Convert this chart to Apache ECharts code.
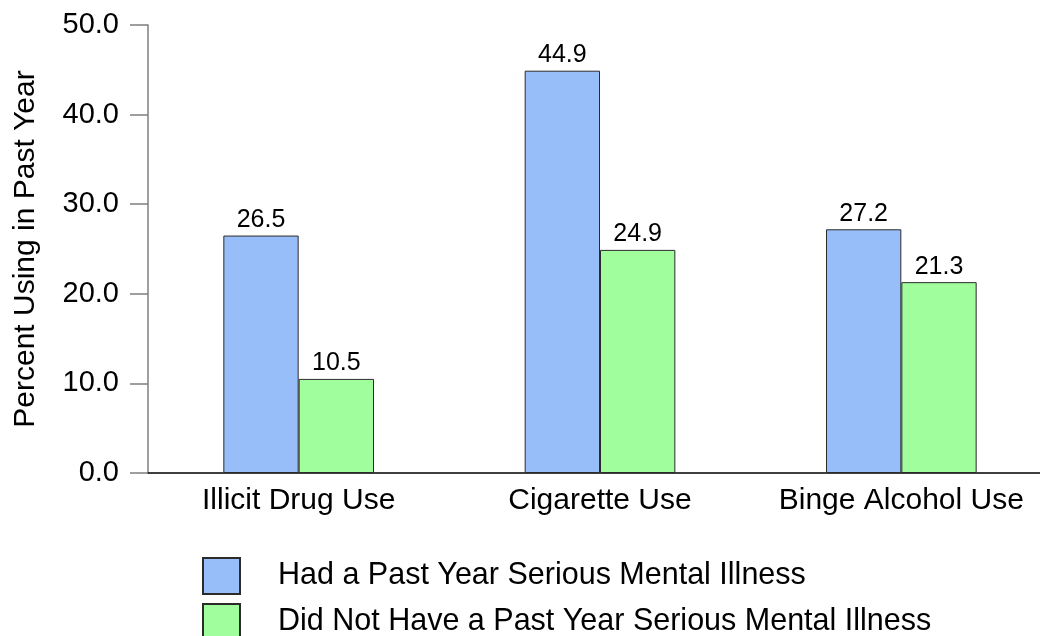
<!DOCTYPE html>
<html>
<head>
<meta charset="utf-8">
<script src="https://cdn.jsdelivr.net/npm/echarts@6/dist/echarts.min.js"></script>
<style>
  html, body { margin: 0; padding: 0; background: #ffffff; }
  #chart { width: 1040px; height: 636px; }
</style>
</head>
<body>
<div id="chart"></div>
<script>
// Past-year substance use by serious mental illness status
const categories = ['Illicit Drug Use', 'Cigarette Use', 'Binge Alcohol Use'];
const seriesNames = [
  'Had a Past Year Serious Mental Illness',
  'Did Not Have a Past Year Serious Mental Illness'
];
const hadSMI = [26.5, 44.9, 27.2];
const noSMI = [10.5, 24.9, 21.3];
const yTicks = [0, 10, 20, 30, 40, 50];

const FONT = '"Liberation Sans", Arial, Helvetica, sans-serif';

const chart = echarts.init(document.getElementById('chart'), null, { renderer: 'canvas' });

function barSeries(name, values, color) {
  return {
    name: name,
    type: 'bar',
    data: values,
    barWidth: '25%',
    barGap: '0%',
    itemStyle: { color: color, borderColor: '#2b2b2b', borderWidth: 1 },
    label: {
      show: true,
      position: 'top',
      distance: 3,
      color: '#000',
      fontFamily: FONT,
      fontSize: 25,
      formatter: p => p.value.toFixed(1)
    },
    emphasis: { disabled: true }
  };
}

// One legend row per series, stacked under the plot
function legendRow(name, top) {
  return {
    orient: 'horizontal',
    left: 202,
    top: top,
    padding: 0,
    itemWidth: 37,
    itemHeight: 36,
    icon: 'rect',
    selectedMode: false,
    textStyle: { color: '#000', fontFamily: FONT, fontSize: 30.5, padding: [0, 0, 0, 33] },
    data: [name]
  };
}

chart.setOption({
  animation: false,
  backgroundColor: '#ffffff',
  grid: {
    left: 148, right: -12, top: 25, bottom: 163,
    containLabel: false,
    outerBoundsMode: 'none'
  },
  xAxis: {
    type: 'category',
    data: categories,
    axisLine: { show: true, lineStyle: { color: '#000', width: 1.5 } },
    axisTick: { show: false },
    axisLabel: { color: '#000', fontFamily: FONT, fontSize: 30, margin: 13, interval: 0 }
  },
  yAxis: {
    type: 'value',
    min: yTicks[0],
    max: yTicks[yTicks.length - 1],
    interval: 10,
    name: 'Percent Using in Past Year',
    nameLocation: 'middle',
    nameGap: 107,
    nameRotate: 90,
    nameTextStyle: { color: '#000', fontFamily: FONT, fontSize: 30 },
    axisLine: { show: true, lineStyle: { color: '#7f7f7f', width: 1.5 } },
    axisTick: { show: true, inside: false, length: 18, lineStyle: { color: '#7f7f7f', width: 1.5 } },
    splitLine: { show: false },
    axisLabel: {
      color: '#000',
      fontFamily: FONT,
      fontSize: 29,
      margin: 29,
      formatter: v => v.toFixed(1)
    }
  },
  legend: [
    legendRow(seriesNames[0], 557),
    legendRow(seriesNames[1], 603)
  ],
  series: [
    barSeries(seriesNames[0], hadSMI, '#97BEF9'),
    barSeries(seriesNames[1], noSMI, '#A0FE9C')
  ]
});
</script>
</body>
</html>
